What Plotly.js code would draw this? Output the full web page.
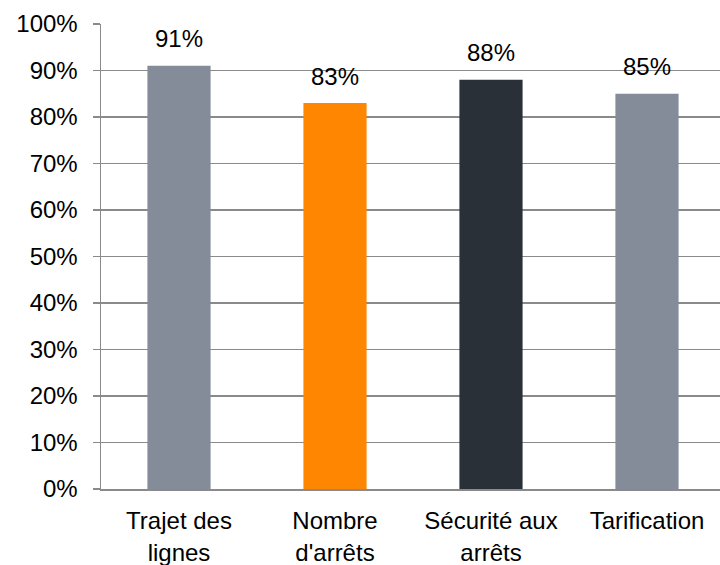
<!DOCTYPE html>
<html><head><meta charset="utf-8">
<script src="https://cdn.plot.ly/plotly-3.0.1.min.js"></script>
<style>html,body{margin:0;padding:0;background:#fff}</style>
</head><body>
<div id="chart" style="width:720px;height:565px"></div>
<script>
const categories = ["Trajet des<br>lignes", "Nombre<br>d'arrêts", "Sécurité aux<br>arrêts", "Tarification"];
const values = [0.91, 0.83, 0.88, 0.85];
const labels = ["91%", "83%", "88%", "85%"];
const colors = ["#848C99", "#FF8600", "#2A3037", "#848C99"];
const yTicks = [0,0.1,0.2,0.3,0.4,0.5,0.6,0.7,0.8,0.9,1.0];

const font = {family: "Liberation Sans, Arial, sans-serif", size: 24, color: "#000"};
const xIdx = categories.map((c,i)=>i);
const data = [{
  type: "bar", x: xIdx, y: values, marker: {color: colors}, width: 0.405,
  hoverinfo: "none"
}];
const annotations = values.map((v,i)=>({
  x: i, y: v, text: labels[i], showarrow: false, yanchor: "middle", yshift: 27,
  font: font
}));
const layout = {
  width: 720, height: 565,
  margin: {l: 101, r: 0, t: 24, b: 76},
  paper_bgcolor: "#fff", plot_bgcolor: "#fff",
  font: font, showlegend: false,
  xaxis: {range: [-0.5, 3.468], tickvals: xIdx, ticktext: categories, showgrid: false,
    showline: true, linecolor: "#8a8a8a", linewidth: 1.5, ticks: "", ticklabelstandoff: 10, tickfont: font, zeroline: false, fixedrange: true},
  yaxis: {range: [0, 1], tickvals: yTicks, tickformat: ".0%", showgrid: true, gridcolor: "#8a8a8a", gridwidth: 1.5,
    showline: true, linecolor: "#8a8a8a", linewidth: 1.5, ticks: "outside", ticklen: 7, tickcolor: "#8a8a8a", tickwidth: 1.5,
    ticklabelstandoff: 10, tickfont: font, zeroline: false, fixedrange: true},
  annotations: annotations
};
Plotly.newPlot("chart", data, layout, {displayModeBar: false, staticPlot: true});
</script>
</body></html>
